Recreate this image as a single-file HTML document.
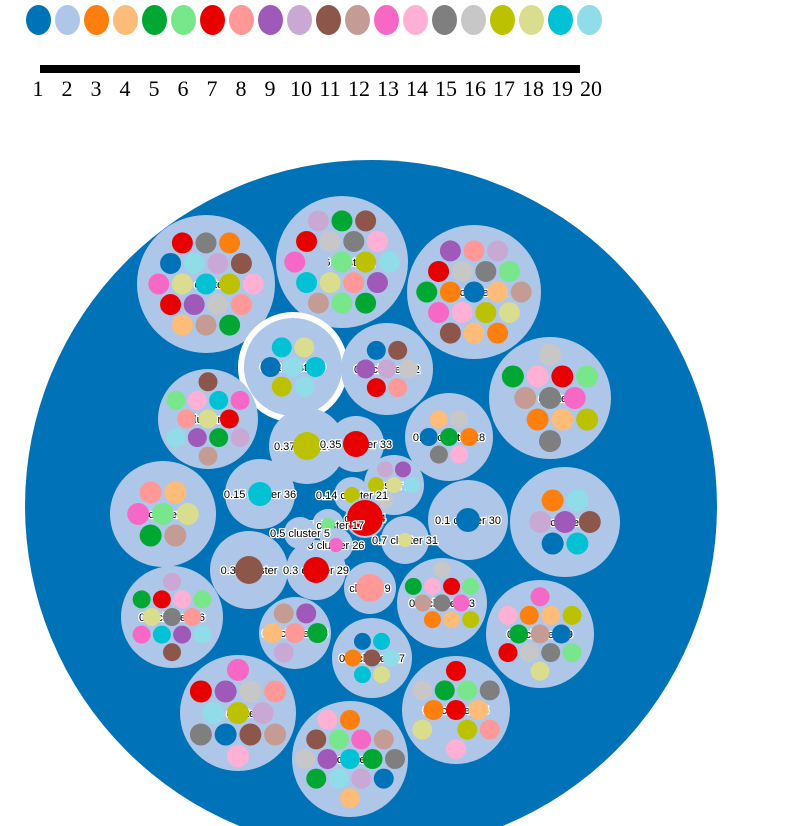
<!DOCTYPE html>
<html><head><meta charset="utf-8">
<style>
html,body{margin:0;padding:0;background:#fff;width:801px;height:826px;overflow:hidden}
svg{display:block}
.lbl{font-family:"Liberation Sans",sans-serif}
.leg{font-family:"Liberation Serif",serif}
</style></head>
<body>
<svg id="chart" width="801" height="826" viewBox="0 0 801 826">
<g id="legend"></g>
<g id="pack"></g>
</svg>
<script>
const palette=["#0072b7","#aec7e8","#ff7f0e","#ffbb78","#00a833","#78e68a","#e80000","#ff9896","#9e59b9","#c9a9d4","#8c564b","#c49c94","#f767c6","#ffb0d4","#7f7f7f","#c7c7c7","#bcc100","#d9dd8d","#00c2d4","#90dce8"];
const legendLabels=["1","2","3","4","5","6","7","8","9","10","11","12","13","14","15","16","17","18","19","20"];
const clusterNames=["0.9 cluster 1","0.26 cluster 2","0.7 cluster 11","0.22 cluster 9","0.2 cluster 12","0.6 cluster 6","2 cluster 20","0.18 cluster 28","0.37 cluster 3","0.35 cluster 33","0.3 cluster 14","0.9 cluster 10","0.15 cluster 36","cluster 24","0.1 cluster 30","0.35 cluster","0.3 cluster 29","cluster 9","0.1 cluster 23","0.2 cluster 16","0.1 cluster 19","0.2 cluster 25","0.1 cluster 27","0.8 cluster 7","0.4 cluster 15","26 cluster 8","0.14 cluster 21","cluster 4","0.05 cluster 17","3 cluster 26","0.5 cluster 5","0.7 cluster 31"];
const clusterCounts=[21,22,21,14,14,18,15,15,4,3,14,17,5,6,6,3,2,1,12,19,16,6,10,14,14,16,5,1,5,3,1,2];
const clusterDotRadius=[10.5,10.5,10.5,10,9.5,11,9.5,9,14,13,11,11,12,8,12,14,13,14,8.5,9,9.5,10,8.5,11,10,10,8,18,7,7,15,7];
// layout (not data): cx, cy, r
const layout=[[206,284,69],[342,262,66],[474,292,67],[293,367,50],[387,369,46],[550,398,61],[208,419,50],[449,437,44],[307,446,38],[356,444,28],[163,514,53],[565,522,55],[260,494,35],[394,485,30],[468,520,40],[249,570,39],[316,570,30],[370,588,26],[442,603,45],[172,617,51],[540,634,54],[295,633,36],[372,658,40],[238,713,58],[456,710,54],[350,759,58],[352,495,18],[365,518,20],[328,525,16],[336,545,17],[300,533,16],[405,540,24]];
const colorSeq=[18,17,16,19,9,8,15,0,10,6,7,14,11,12,13,6,2,3,4,5,1,16,15,14,17,7,6,13,18,8,4,5,12,19,9,10,11,4,0,2,3,15,14,13,16,6,5,12,17,7,3,4,11,8,9,10,2,19,0,18];
const NS="http://www.w3.org/2000/svg";
function mk(tag,attrs,parent){const e=document.createElementNS(NS,tag);for(const k in attrs)e.setAttribute(k,attrs[k]);parent.appendChild(e);return e;}
const lg=document.getElementById('legend');
const lx=i=>38+i*29;
palette.forEach((c,i)=>{
  const el=mk('ellipse',{cx:lx(i)+0.5,cy:20,rx:12.5,ry:15,fill:c},lg);
  
  
  const t=mk('text',{x:lx(i)+(i>=9?2:0),y:96,'font-size':22,'text-anchor':'middle','class':'leg'},lg);
  t.textContent=legendLabels[i];
  
  
});
const bar=mk('rect',{x:40,y:65,width:540,height:8,fill:'#000'},lg);


const pk=document.getElementById('pack');
const root=mk('circle',{cx:371,cy:506,r:346,fill:'#0072b7'},pk);


let seq=0;
layout.forEach((L,ci)=>{
  const [cx,cy,r]=L;const g=mk('g',{},pk);
  
  
  mk('circle',{cx,cy,r,fill:'#aec7e8'},g);
  if(ci===3) mk('circle',{cx,cy,r:r+2,fill:'none',stroke:'#fff','stroke-width':6},g);
  const t=mk('text',{x:cx,y:cy+4,'font-size':11,'text-anchor':'middle',stroke:'#fff','stroke-width':2.5,'paint-order':'stroke',fill:'#000','class':'lbl'},g);
  t.textContent=clusterNames[ci];
  
  
  const n=clusterCounts[ci],dr=clusterDotRadius[ci],sp=dr*2.25;
  const pts=[];
  for(let row=-8;row<=8;row++)for(let col=-8;col<=8;col++){
    const x=(col+(row&1?0.5:0))*sp,y=row*sp*0.87;
    if(Math.hypot(x,y)+dr<=r-2)pts.push([x,y]);}
  pts.sort((a,b)=>Math.hypot(a[0],a[1])-Math.hypot(b[0],b[1]));
  pts.slice(0,n).forEach(p=>{
    const d=mk('circle',{cx:cx+p[0],cy:cy+p[1],r:dr,fill:palette[colorSeq[seq++%colorSeq.length]]},g);
    
    
  });
});
</script>
</body></html>
